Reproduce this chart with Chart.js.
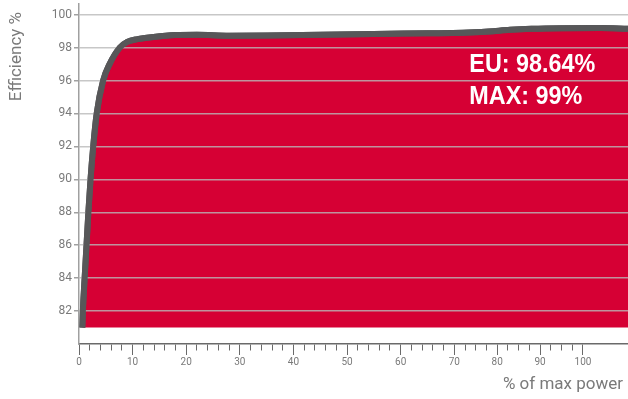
<!DOCTYPE html>
<html>
<head>
<meta charset="utf-8">
<script src="https://cdn.jsdelivr.net/npm/chart.js@4"></script>
<style>
  html, body { margin: 0; padding: 0; background: #fff; }
  #wrap { width: 628px; height: 399px; }
</style>
</head>
<body>
<div id="wrap"><canvas id="effChart"></canvas></div>
<script>
// Efficiency curve
const powerPct = [0.62, 0.72, 1.05, 1.4, 1.75, 2.15, 2.65, 3.3, 4.5, 5.7, 7.6, 9, 10.9, 13.9, 18, 22, 28, 35, 45, 55, 65, 72, 78, 83, 88, 95, 104, 110.5];
const efficiency = [81, 82, 84, 86, 88, 90, 92, 94, 96, 97, 98, 98.35, 98.52, 98.65, 98.76, 98.78, 98.72, 98.73, 98.78, 98.83, 98.87, 98.9, 98.98, 99.08, 99.14, 99.18, 99.19, 99.15];

const yTicks = [82, 84, 86, 88, 90, 92, 94, 96, 98, 100];
const xMajorTicks = [0, 10, 20, 30, 40, 50, 60, 70, 80, 90, 100];
const euLabel = "EU: 98.64%";
const maxLabel = "MAX: 99%";
const xTitle = "% of max power";
const yTitle = "Efficiency %";

// the power axis is squeezed above 70 %: one minor step is 2 % below 70, 2.5 % above
function toAxis(p) {
  return p <= 70 ? p / 2 : 35 + (p - 70) / 2.5;
}
const xMinorTicks = [];
for (let p = 0; p <= 70; p += 2) xMinorTicks.push(p);
for (let p = 72.5; p <= 100; p += 2.5) xMinorTicks.push(p);

const red = "#d60034";
const lineGrey = "#575759";
const textGrey = "#7a7a7a";

// draw the curve again so it sits above the grid lines
const redrawLine = {
  id: "redrawLine",
  afterDraw(chart) {
    const meta = chart.getDatasetMeta(0);
    const ctx = chart.ctx;
    ctx.save();
    meta.dataset.draw(ctx, chart.chartArea);
    ctx.restore();
  }
};

// axis titles and the EU / MAX figures
const labels = {
  id: "labels",
  afterDraw(chart) {
    const ctx = chart.ctx;
    ctx.save();
    ctx.fillStyle = textGrey;
    ctx.font = "17px Roboto, sans-serif";
    ctx.textAlign = "right";
    ctx.textBaseline = "alphabetic";
    ctx.fillText(xTitle, 623, 389);
    ctx.translate(21, 12);
    ctx.rotate(-Math.PI / 2);
    ctx.fillText(yTitle, 0, 0);
    ctx.restore();

    const x = chart.scales.x.getPixelForValue(toAxis(73.5));
    const y1 = chart.scales.y.getPixelForValue(96.55);
    const y2 = chart.scales.y.getPixelForValue(94.55);
    ctx.save();
    ctx.fillStyle = "#fff";
    ctx.font = "bold 26px 'Liberation Sans Narrow', 'Liberation Sans', sans-serif";
    ctx.textBaseline = "alphabetic";
    const sx = 126 / ctx.measureText(euLabel).width;
    ctx.translate(x, 0);
    ctx.scale(sx, 1);
    ctx.fillText(euLabel, 0, y1);
    ctx.fillText(maxLabel, 0, y2);
    ctx.restore();
  }
};

new Chart(document.getElementById("effChart"), {
  type: "line",
  data: {
    datasets: [{
      data: powerPct.map((p, i) => ({ x: toAxis(p), y: efficiency[i] })),
      borderColor: lineGrey,
      borderWidth: 6,
      backgroundColor: red,
      fill: { value: 81 },
      pointRadius: 0,
      cubicInterpolationMode: "monotone"
    }]
  },
  options: {
    responsive: true,
    maintainAspectRatio: false,
    animation: false,
    layout: { padding: { top: 4, right: 0, bottom: 0, left: 0 } },
    plugins: { legend: { display: false }, tooltip: { enabled: false } },
    scales: {
      x: {
        type: "linear",
        min: 0,
        max: toAxis(110.5),
        afterFit: s => { s.height = 55; s.paddingLeft = 0; s.paddingRight = 0; },
        afterBuildTicks: s => { s.ticks = xMinorTicks.map(p => ({ value: toAxis(p) })); },
        border: { color: "#6a6a6a", width: 1.5 },
        grid: {
          drawOnChartArea: false,
          tickLength: 11,
          tickColor: "#6a6a6a",
          tickWidth: 1,
          tickBorderDash: c => {
            const p = xMinorTicks[c.index];
            return xMajorTicks.includes(p) ? [] : [6, 30];
          }
        },
        ticks: {
          autoSkip: false,
          maxRotation: 0,
          padding: 1,
          color: textGrey,
          font: { family: "Roboto", size: 10 },
          callback: (v, i) => {
            const p = xMinorTicks[i];
            return xMajorTicks.includes(p) ? String(p) : "";
          }
        }
      },
      y: {
        min: 80,
        max: 100.65,
        afterFit: s => { s.width = 79; s.paddingTop = 0; s.paddingBottom = 0; },
        afterBuildTicks: s => { s.ticks = yTicks.map(v => ({ value: v })); },
        border: { color: "#a0a0a0", width: 1.5, z: 1 },
        grid: {
          z: 1,
          color: "rgba(185,185,185,0.8)",
          lineWidth: 1.5,
          tickLength: 5,
          tickColor: "#a0a0a0"
        },
        ticks: {
          padding: 2,
          color: textGrey,
          font: { family: "Roboto", size: 12 }
        }
      }
    }
  },
  plugins: [redrawLine, labels]
});
</script>
</body>
</html>
